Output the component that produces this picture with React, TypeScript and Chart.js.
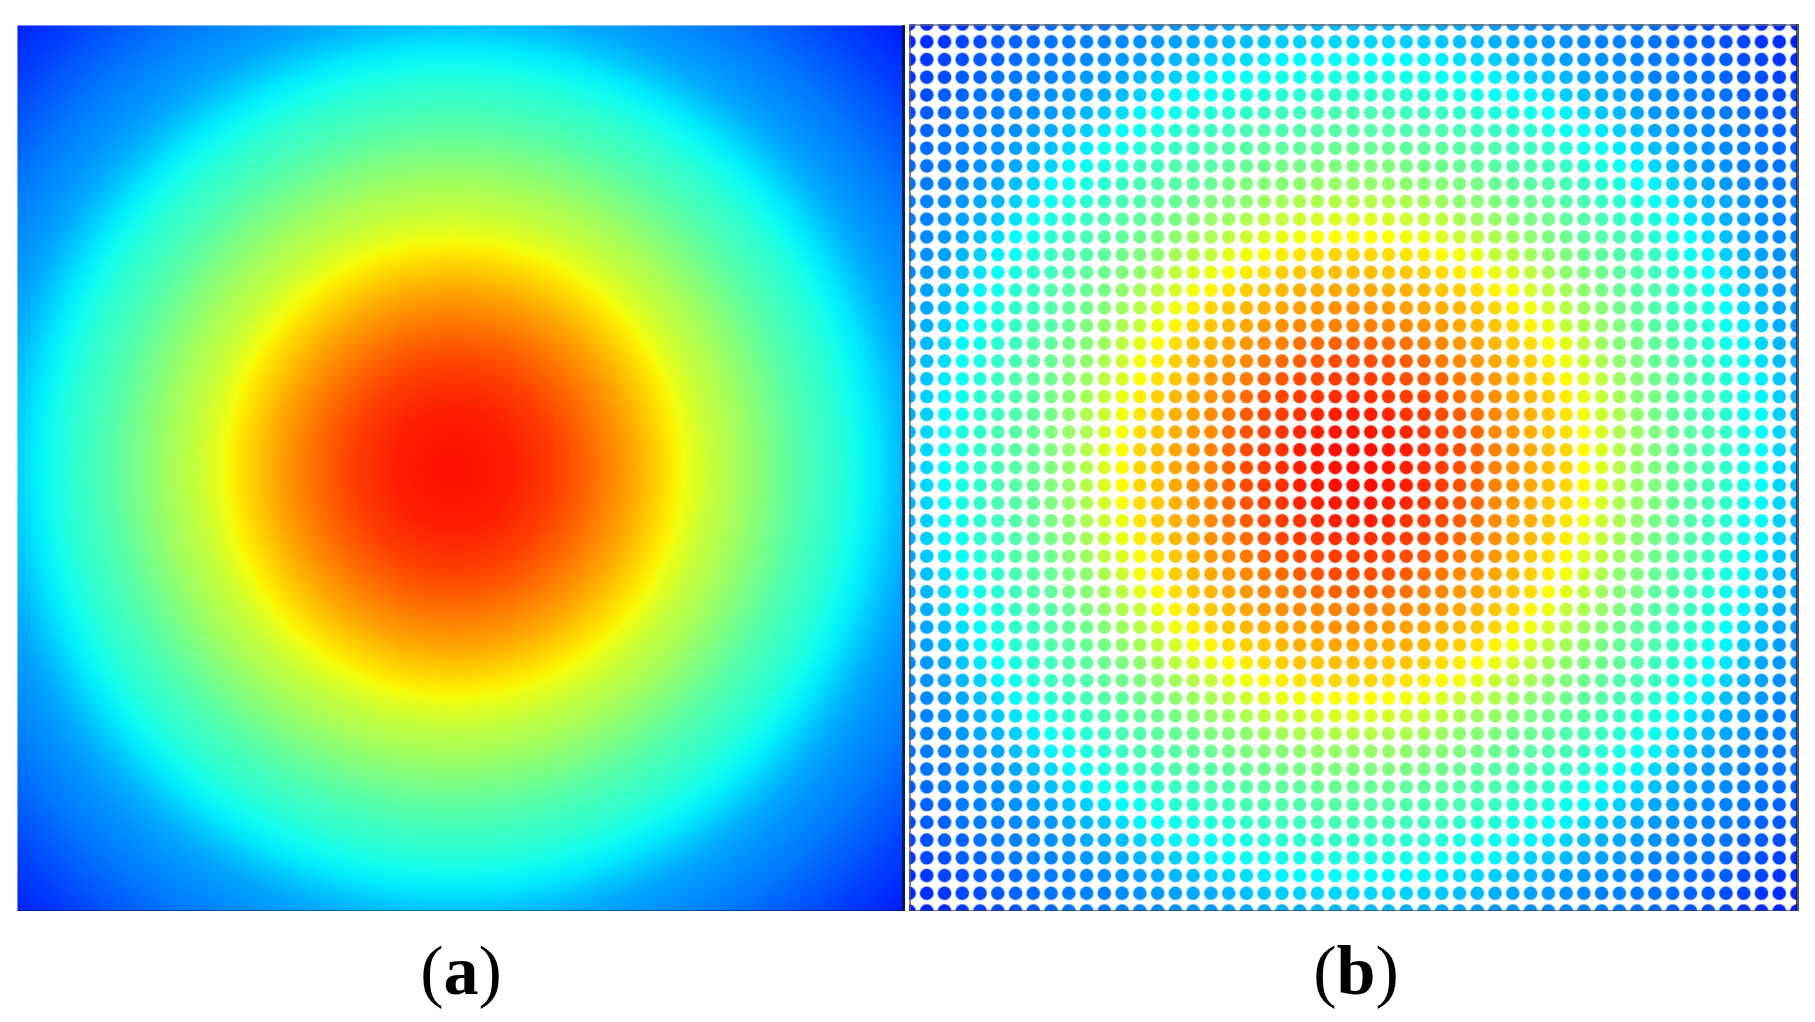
import React, { useEffect, useRef } from "react";
import { Chart, registerables } from "chart.js";

Chart.register(...registerables);

// Panel (a): distance from the centre and the colour level read at that distance
const ringDistance = [640, 620, 600, 580, 560, 540, 520, 500, 480, 460, 440, 420, 400, 380, 360, 340, 320, 300, 280, 260, 240, 230, 220, 200, 180, 160, 140, 120, 100, 80, 60, 40, 20, 0];
const ringLevel = [2.5, 4.5, 6.5, 8.5, 11, 13.2, 15.5, 17.5, 19.5, 22, 26, 31, 36, 39.5, 42, 45, 48.5, 52, 55.5, 58.5, 62.5, 65, 69, 73.5, 78, 81.8, 85.6, 89, 92, 94, 96, 97, 97.7, 98];

// Panel (b): colour level of each dot, one quadrant of the symmetric grid, from the centre outwards
const dotQuadrant = [
  "98 98 97 96 94 92 90 87 83 81 78 75 72 67 62 57 53 50 47 45 43 40 37 34 28 24",
  "98 98 97 96 94 92 90 87 83 81 78 75 72 67 62 57 53 50 47 45 43 40 37 34 28 24",
  "97 97 96 95 93 91 89 86 82 80 77 74 71 66 61 56 53 50 47 45 43 40 37 33 28 24",
  "96 96 95 93 92 90 88 85 82 79 77 74 70 65 60 56 52 49 46 44 42 39 36 33 27 23",
  "94 94 93 92 91 89 86 83 81 78 76 73 69 64 59 55 51 49 46 44 42 39 36 32 27 23",
  "92 92 91 90 89 87 84 82 80 77 74 71 67 62 58 54 51 48 46 44 41 38 35 31 26 22",
  "90 90 89 88 86 84 82 80 78 76 73 69 65 60 56 52 50 47 45 43 40 37 35 29 25 22",
  "87 87 86 85 83 82 80 78 76 74 71 67 63 58 54 51 49 46 44 42 39 36 33 28 24 21",
  "83 83 82 82 81 80 78 76 74 72 68 64 59 56 53 50 47 45 44 41 38 35 32 27 23 20",
  "81 81 80 79 78 77 76 74 72 69 65 61 57 54 51 48 46 44 42 40 37 34 29 25 22 20",
  "78 78 77 77 76 74 73 71 68 65 61 58 55 52 49 47 45 44 41 39 36 32 27 24 21 19",
  "75 75 74 74 73 71 69 67 64 61 58 55 52 50 48 46 44 42 40 37 34 30 26 22 20 18",
  "72 72 71 70 69 67 65 63 59 57 55 52 50 48 46 44 43 41 38 35 32 27 24 21 19 18",
  "67 67 66 65 64 62 60 58 56 54 52 50 48 46 45 43 41 39 36 34 29 25 22 20 18 17",
  "62 62 61 60 59 58 56 54 53 51 49 48 46 45 43 41 39 37 35 30 26 23 21 19 17 16",
  "57 57 56 56 55 54 52 51 50 48 47 46 44 43 41 39 37 35 31 27 24 22 20 18 17 16",
  "53 53 53 52 51 51 50 49 47 46 45 44 43 41 39 37 35 32 28 25 22 20 19 17 16 15",
  "50 50 50 49 49 48 47 46 45 44 44 42 41 39 37 35 32 28 25 22 20 19 17 16 15 14",
  "47 47 47 46 46 46 45 44 44 42 41 40 38 36 35 31 28 25 23 21 19 18 17 16 14 12",
  "45 45 45 44 44 44 43 42 41 40 39 37 35 34 30 27 25 22 21 19 18 17 16 14 13 11",
  "43 43 43 42 42 41 40 39 38 37 36 34 32 29 26 24 22 20 19 18 17 16 15 13 12 10",
  "40 40 40 39 39 38 37 36 35 34 32 30 27 25 23 22 20 19 18 17 16 15 13 12 10 9",
  "37 37 37 36 36 35 35 33 32 29 27 26 24 22 21 20 19 17 17 16 15 13 12 10 9 7",
  "34 34 33 33 32 31 29 28 27 25 24 22 21 20 19 18 17 16 16 14 13 12 10 9 7 6",
  "28 28 28 27 27 26 25 24 23 22 21 20 19 18 17 17 16 15 14 13 12 10 9 7 6 5",
  "24 24 24 23 23 22 22 21 20 20 19 18 18 17 16 16 15 14 12 11 10 9 7 6 5 4",
];

const captions = ["a", "b"];

// Blue -> cyan -> yellow -> red, level 0..100
function levelColor(level: number, alpha = 1): string {
  const l = Math.max(0, Math.min(100, level)) / 100;
  let r = 0, g = 0, b = 0;
  if (l < 1 / 3) {
    g = 255 * l * 3;
    b = 255;
  } else if (l < 2 / 3) {
    const t = (l - 1 / 3) * 3;
    r = 255 * t;
    g = 255;
    b = 255 * (1 - t);
  } else {
    const t = (l - 2 / 3) * 3;
    r = 255;
    g = 255 * (1 - t);
  }
  return `rgba(${Math.round(r)},${Math.round(g)},${Math.round(b)},${alpha})`;
}

const hiddenAxis = (min: number, max: number, reverse = false) => ({
  type: "linear" as const,
  display: false,
  min,
  max,
  reverse,
});

const baseOptions = {
  responsive: false,
  animation: false as const,
  events: [] as string[],
  layout: { autoPadding: false, padding: 0 },
  plugins: { legend: { display: false }, tooltip: { enabled: false }, title: { display: false } },
};

function GradientPanel() {
  const ref = useRef<HTMLCanvasElement>(null);
  useEffect(() => {
    const distPx = (c: any, d: number) => {
      const v = c.scales.x.getPixelForValue(d) - c.scales.x.getPixelForValue(0);
      return Number.isFinite(v) ? v : 0;
    };
    const chart = new Chart(ref.current!, {
      type: "scatter",
      data: {
        datasets: [
          {
            data: ringDistance.map(() => ({ x: 0, y: 0 })),
            clip: 0,
            pointBorderWidth: 0,
            pointRadius: (ctx: any) => distPx(ctx.chart, ringDistance[ctx.dataIndex]),
            pointBackgroundColor: (ctx: any) => {
              const i = ctx.dataIndex;
              const c = ctx.chart;
              const next = Math.min(i + 1, ringDistance.length - 1);
              const cx = c.scales.x.getPixelForValue(0);
              const cy = c.scales.y.getPixelForValue(0);
              const outer = distPx(c, ringDistance[i]);
              const inner = distPx(c, ringDistance[next]);
              if (!Number.isFinite(cx) || !Number.isFinite(cy) || outer <= inner) return levelColor(ringLevel[i]);
              const g = c.ctx.createRadialGradient(cx, cy, inner, cx, cy, outer);
              g.addColorStop(0, levelColor(ringLevel[next]));
              g.addColorStop(1, levelColor(ringLevel[i]));
              return g;
            },
          },
        ],
      },
      options: {
        ...baseOptions,
        scales: { x: hiddenAxis(-437, 451), y: hiddenAxis(-442, 444) },
      } as any,
    });
    return () => chart.destroy();
  }, []);
  return <canvas ref={ref} width={888} height={886} style={{ display: "block" }} />;
}

function DotPanel() {
  const ref = useRef<HTMLCanvasElement>(null);
  useEffect(() => {
    const quad = dotQuadrant.map((row) => row.split(" ").map(Number));
    const n = quad.length - 1;
    const points: { x: number; y: number }[] = [];
    const levels: number[] = [];
    for (let y = -n; y <= n; y++) {
      for (let x = -n; x <= n; x++) {
        points.push({ x, y });
        levels.push(quad[Math.abs(y)][Math.abs(x)]);
      }
    }
    const chart = new Chart(ref.current!, {
      type: "scatter",
      data: {
        datasets: [
          {
            data: points,
            clip: 0,
            pointRadius: 6.5,
            pointBorderWidth: 1.6,
            pointBackgroundColor: levels.map((l) => levelColor(l)),
            pointBorderColor: levels.map((l) => levelColor(l, 0.4)),
          },
        ],
      },
      options: {
        ...baseOptions,
        scales: { x: hiddenAxis(-n, n), y: hiddenAxis(-n, n, true) },
      } as any,
    });
    return () => chart.destroy();
  }, []);
  return <canvas ref={ref} width={888} height={887} style={{ display: "block" }} />;
}

const lineStyle = (s: React.CSSProperties): React.CSSProperties => ({ position: "absolute", ...s });

const captionStyle = (cx: number): React.CSSProperties => ({
  position: "absolute",
  left: cx - 100,
  width: 200,
  top: 926,
  textAlign: "center",
  fontFamily: '"Liberation Serif", serif',
  fontSize: 70,
  lineHeight: "90px",
  color: "#000",
});

export default function App() {
  return (
    <div style={{ position: "absolute", left: 0, top: 0, width: 1815, height: 1022, overflow: "hidden", background: "#fff" }}>
      <div style={{ position: "absolute", left: 17, top: 25 }}>
        <GradientPanel />
      </div>
      <div style={lineStyle({ left: 17, top: 25, width: 888, height: 1, background: "rgba(255,255,255,0.45)" })} />
      <div style={lineStyle({ left: 17, top: 25, width: 1, height: 886, background: "rgba(255,255,255,0.45)" })} />
      <div style={lineStyle({ left: 902, top: 25, width: 3, height: 886, background: "rgba(10,20,50,0.85)" })} />
      <div style={lineStyle({ left: 17, top: 910, width: 888, height: 1, background: "rgba(0,20,60,0.45)" })} />

      <div style={{ position: "absolute", left: 909, top: 24 }}>
        <DotPanel />
      </div>
      <div style={lineStyle({ left: 909, top: 24, width: 2, height: 887, background: "rgba(90,90,100,0.7)" })} />
      <div style={lineStyle({ left: 909, top: 24, width: 888, height: 2, background: "rgba(110,110,110,0.7)" })} />
      <div style={lineStyle({ left: 1796, top: 24, width: 3, height: 887, background: "rgba(20,25,60,0.75)" })} />
      <div style={lineStyle({ left: 909, top: 910, width: 889, height: 1, background: "rgba(60,60,70,0.7)" })} />

      <div style={captionStyle(461)}>(<b>{captions[0]}</b>)</div>
      <div style={captionStyle(1356)}>(<b>{captions[1]}</b>)</div>
    </div>
  );
}
